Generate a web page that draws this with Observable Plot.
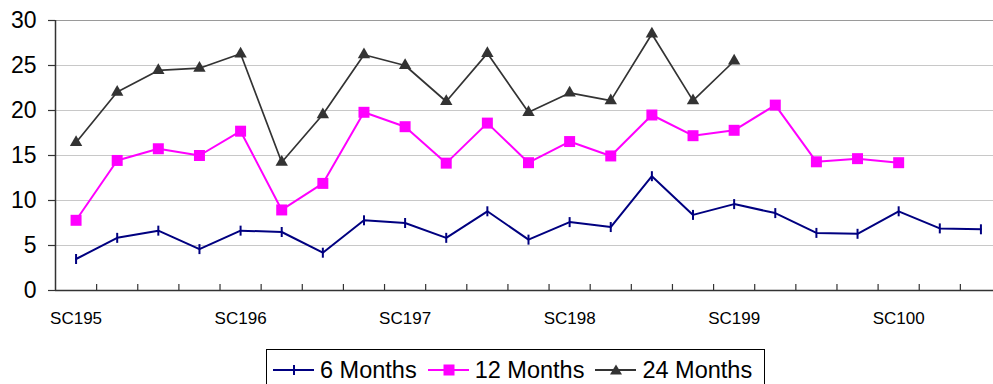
<!DOCTYPE html>
<html>
<head>
<meta charset="utf-8">
<script src="https://cdn.jsdelivr.net/npm/d3@7"></script>
<script src="https://cdn.jsdelivr.net/npm/@observablehq/plot@0.6"></script>
<style>
  html, body { margin: 0; padding: 0; background: #fff; overflow: hidden; }
  #wrap { position: relative; width: 993px; height: 384px; overflow: hidden; font-family: "Liberation Sans", Arial, sans-serif; }
  #chart svg { overflow: hidden; }
  #legend { position: absolute; left: 266px; top: 349px; width: 499px; height: 42px; border: 1px solid #000; box-sizing: border-box; display: flex; align-items: center; padding-left: 6px; font-size: 23.5px; color: #000; white-space: nowrap; overflow: hidden; }
  .item { display: flex; align-items: center; margin-right: 11px; flex-shrink: 0; white-space: nowrap; }
  .item svg { margin-right: 6px; flex-shrink: 0; }
</style>
</head>
<body>
<div id="wrap">
  <div id="chart"></div>
  <div id="legend"></div>
</div>
<script>
// Category index positions along x (23 periods); labels shown every 4th
const categories = ["SC195","","","","SC196","","","","SC197","","","","SC198","","","","SC199","","","","SC100","",""];
const labelIdx = [0, 4, 8, 12, 16, 20];
const seriesNames = ["6 Months", "12 Months", "24 Months"];
const months6  = [3.5, 5.85, 6.65, 4.6, 6.65, 6.5, 4.2, 7.8, 7.5, 5.85, 8.8, 5.65, 7.6, 7.05, 12.7, 8.4, 9.6, 8.6, 6.4, 6.3, 8.8, 6.9, 6.8];
const months12 = [7.8, 14.45, 15.75, 15.0, 17.7, 8.95, 11.9, 19.8, 18.2, 14.15, 18.6, 14.2, 16.55, 14.95, 19.5, 17.2, 17.8, 20.6, 14.3, 14.65, 14.2, null, null];
const months24 = [16.45, 22.05, 24.45, 24.7, 26.3, 14.25, 19.55, 26.2, 25.0, 21.0, 26.35, 19.8, 21.95, 21.1, 28.5, 21.1, 25.5, null, null, null, null, null, null];
const yTicks = [0, 5, 10, 15, 20, 25, 30];

const colors = ["#000080", "#ff00ff", "#333333"];

const toRows = (vals) => vals.map((v, i) => ({i, v})).filter(d => d.v != null);
const r6 = toRows(months6), r12 = toRows(months12), r24 = toRows(months24);
const bounds = d3.range(1, categories.length).map(k => k - 0.5);

const vbar = {
  draw(context, size) {
    const h = Math.sqrt(size / Math.PI);
    context.moveTo(0, -h);
    context.lineTo(0, h);
  }
};

const chart = Plot.plot({
  width: 993,
  height: 342,
  marginLeft: 55,
  marginRight: 0,
  marginTop: 20,
  marginBottom: 52,
  style: {fontFamily: "'Liberation Sans', Arial, sans-serif", background: "#fff", overflow: "hidden"},
  x: {type: "linear", domain: [-0.5, categories.length - 0.5], range: [55, 55 + 41.13 * categories.length], axis: null, label: null},
  y: {domain: [0, 30], axis: null, label: null},
  marks: [
    Plot.gridY(yTicks.filter(t => t > 0 && t < 30), {stroke: "#c8c8c8", strokeOpacity: 1, strokeWidth: 1}),
    Plot.ruleY([30], {stroke: "#9a9a9a", strokeWidth: 1.2}),
    Plot.axisY({ticks: yTicks, tickSize: 7, tickPadding: 12, fontSize: 23, stroke: "#333", strokeWidth: 1.2, color: "#000", label: null}),
    Plot.axisX({ticks: bounds, tickSize: 6, dy: -6, tickFormat: () => "", stroke: "#333", strokeWidth: 1.2, label: null}),
    Plot.axisX({ticks: labelIdx, tickSize: 0, tickPadding: 21, tickFormat: i => categories[i], fontSize: 17, color: "#000", label: null}),
    Plot.ruleX([-0.5], {y1: 0, y2: 30, stroke: "#333", strokeWidth: 1.5}),
    Plot.ruleY([0], {stroke: "#333", strokeWidth: 1.5}),
    Plot.line(r6, {x: "i", y: "v", stroke: colors[0], strokeWidth: 2}),
    Plot.dot(r6, {x: "i", y: "v", symbol: vbar, r: 5, fill: "none", stroke: colors[0], strokeWidth: 2}),
    Plot.line(r12, {x: "i", y: "v", stroke: colors[1], strokeWidth: 2}),
    Plot.dot(r12, {x: "i", y: "v", symbol: "square", r: 6.2, fill: colors[1], stroke: "none"}),
    Plot.line(r24, {x: "i", y: "v", stroke: colors[2], strokeWidth: 1.7}),
    Plot.dot(r24, {x: "i", y: "v", symbol: "triangle", r: 4.6, fill: colors[2], stroke: "none"})
  ]
});
document.getElementById("chart").appendChild(chart);

// Legend
const legend = document.getElementById("legend");
const markerSvg = (k) => {
  const c = colors[k];
  let m = "";
  if (k === 0) m = `<line x1="21" y1="14" x2="21" y2="24" stroke="${c}" stroke-width="2"/>`;
  if (k === 1) m = `<rect x="15.5" y="13.5" width="11" height="11" fill="${c}"/>`;
  if (k === 2) m = `<path d="M21,13.5 L27,23.5 L15,23.5 Z" fill="${c}"/>`;
  return `<svg width="41" height="38" viewBox="0 0 41 38"><line x1="0" y1="19" x2="41" y2="19" stroke="${c}" stroke-width="2"/>${m}</svg>`;
};
seriesNames.forEach((name, k) => {
  const el = document.createElement("div");
  el.className = "item";
  el.innerHTML = markerSvg(k) + `<span>${name}</span>`;
  legend.appendChild(el);
});
</script>
</body>
</html>
